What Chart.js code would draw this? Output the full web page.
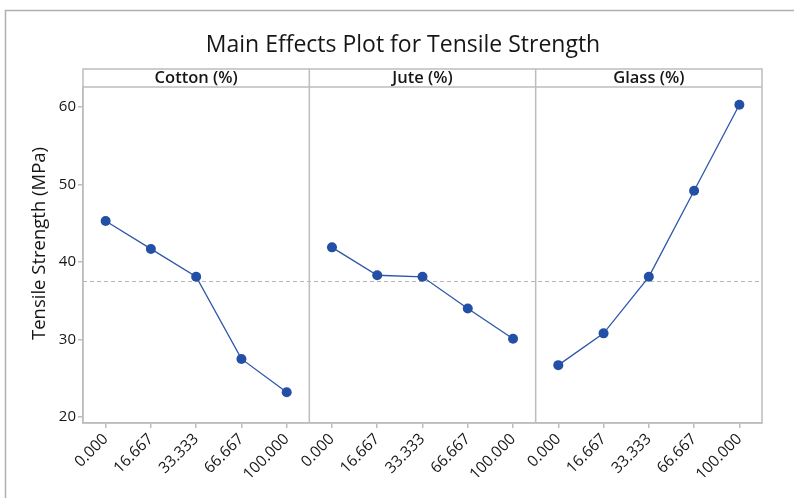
<!DOCTYPE html>
<html><head><meta charset="utf-8">
<script src="https://cdn.jsdelivr.net/npm/chart.js@4/dist/chart.umd.min.js"></script>
<style>html,body{margin:0;padding:0;background:#fff;overflow:hidden}#wrap{position:relative;width:794px;height:498px}</style>
</head><body><div id="wrap"><canvas id="c" width="794" height="498"></canvas></div>
<script>
// ---- data ----
const factors = ['Cotton (%)', 'Jute (%)', 'Glass (%)'];
const levels = ['0.000', '16.667', '33.333', '66.667', '100.000'];
const cotton = [45.3, 41.7, 38.1, 27.5, 23.2];
const jute = [41.9, 38.3, 38.1, 34.0, 30.1];
const glass = [26.7, 30.8, 38.1, 49.2, 60.3];
const grandMean = 37.5;
const yTicks = [20, 30, 40, 50, 60];
const chartTitle = 'Main Effects Plot for Tensile Strength';
const yTitle = 'Tensile Strength (MPa)';

// ---- styles ----
const FONT = "'Open Sans', 'Noto Sans', sans-serif";
const TEXT = '#161616';
const FRAME = '#bdbdbd';
const BLUE = '#2350a6';

const series = [cotton, jute, glass];
const labels = factors.flatMap(() => levels);
const datasets = series.map((vals, k) => ({
  label: factors[k],
  data: labels.map((_, i) => Math.floor(i / levels.length) === k ? vals[i % levels.length] : null),
  borderColor: '#2d56aa',
  borderWidth: 1.3,
  pointRadius: 5,
  pointBackgroundColor: BLUE,
  pointBorderWidth: 0,
  spanGaps: false,
  tension: 0
}));

const panelPlugin = {
  id: 'panels',
  beforeDraw(chart) {
    const ctx = chart.ctx;
    ctx.save();
    ctx.fillStyle = '#fff';
    ctx.fillRect(0, 0, chart.width, chart.height);
    ctx.strokeStyle = '#b0b0b0';
    ctx.lineWidth = 1.5;
    ctx.beginPath();
    ctx.moveTo(5.5, chart.height);
    ctx.lineTo(5.5, 10.5);
    ctx.lineTo(chart.width, 10.5);
    ctx.stroke();
    ctx.fillStyle = TEXT;
    ctx.font = `23px ${FONT}`;
    ctx.textAlign = 'center';
    ctx.textBaseline = 'alphabetic';
    ctx.fillText(chartTitle, 403, 52);
    ctx.restore();
  },
  beforeDatasetsDraw(chart) {
    const {ctx, chartArea: a, scales: {y}} = chart;
    const py = Math.round(y.getPixelForValue(grandMean)) + 0.5;
    ctx.save();
    ctx.strokeStyle = '#b5b5b5';
    ctx.lineWidth = 1;
    ctx.setLineDash([4, 3]);
    ctx.beginPath();
    ctx.moveTo(a.left, py);
    ctx.lineTo(a.right, py);
    ctx.stroke();
    ctx.restore();
  },
  afterDraw(chart) {
    const {ctx, chartArea: a, scales: {x}} = chart;
    const stripTop = a.top - 18;
    ctx.save();
    ctx.strokeStyle = FRAME;
    ctx.lineWidth = 1.5;
    ctx.strokeRect(a.left, stripTop, a.right - a.left, a.bottom - stripTop);
    ctx.beginPath();
    ctx.moveTo(a.left, a.top);
    ctx.lineTo(a.right, a.top);
    const n = levels.length;
    const bounds = [a.left];
    for (let k = 1; k < factors.length; k++) {
      const bx = (x.getPixelForValue(k * n - 1) + x.getPixelForValue(k * n)) / 2;
      bounds.push(bx);
      ctx.moveTo(bx, stripTop);
      ctx.lineTo(bx, a.bottom);
    }
    bounds.push(a.right);
    ctx.stroke();
    ctx.fillStyle = TEXT;
    ctx.font = `600 16.5px ${FONT}`;
    ctx.textAlign = 'center';
    ctx.textBaseline = 'middle';
    factors.forEach((f, k) => {
      ctx.fillText(f, (bounds[k] + bounds[k + 1]) / 2, stripTop + 9.5);
    });
    ctx.font = `18.5px ${FONT}`;
    ctx.translate(40, 243.5);
    ctx.rotate(-Math.PI / 2);
    ctx.fillText(yTitle, 0, 0);
    ctx.restore();
  }
};

new Chart(document.getElementById('c'), {
  type: 'line',
  data: {labels, datasets},
  options: {
    responsive: false,
    animation: false,
    devicePixelRatio: 1,
    layout: {padding: {left: 0, right: 32, top: 87, bottom: 0}},
    plugins: {
      legend: {display: false},
      tooltip: {enabled: false},
      title: {display: false}
    },
    scales: {
      x: {
        type: 'category',
        offset: true,
        grid: {display: true, drawOnChartArea: false, drawTicks: true, tickLength: 5, color: FRAME, lineWidth: 1.5},
        border: {display: true, color: FRAME, width: 1.5},
        ticks: {autoSkip: false, maxRotation: 45, minRotation: 45, color: TEXT, font: {family: FONT, size: 15.5}, padding: 2},
        afterFit(s) { s.height = 75; }
      },
      y: {
        min: 19.23,
        max: 62.6,
        afterBuildTicks(s) { s.ticks = yTicks.map(v => ({value: v})); },
        grid: {display: true, drawOnChartArea: false, drawTicks: true, tickLength: 5, color: FRAME, lineWidth: 1.5},
        border: {display: true, color: FRAME, width: 1.5},
        ticks: {color: TEXT, font: {family: FONT, size: 15}, padding: 2},
        afterFit(s) { s.width = 83; }
      }
    }
  },
  plugins: [panelPlugin]
});
</script>
</body></html>
